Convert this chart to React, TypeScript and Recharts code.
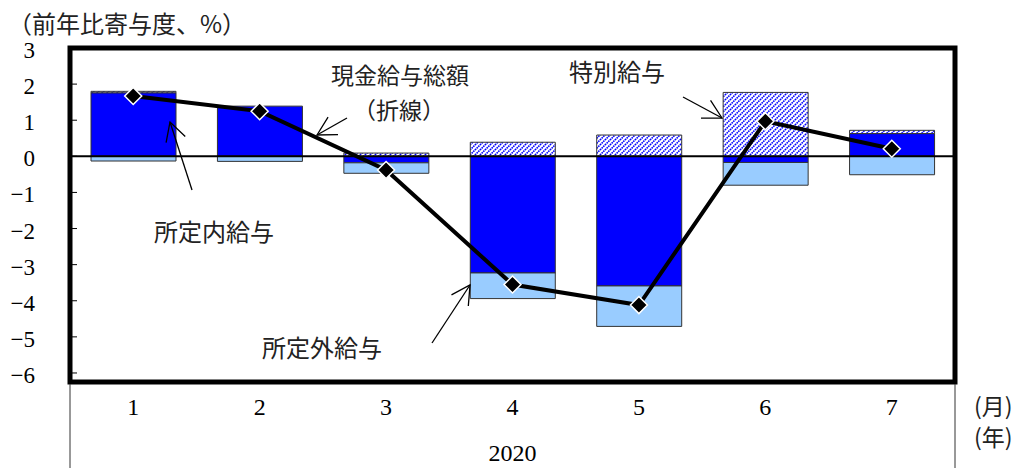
import React from 'react';
import { ComposedChart, Bar, Line, XAxis, YAxis, ReferenceLine } from 'recharts';

// Contributions to year-on-year change in cash earnings (percentage points), 2020
const months = ['1', '2', '3', '4', '5', '6', '7'];
const scheduledPay = [1.76, 1.39, -0.18, -3.23, -3.59, -0.17, 0.63]; // 所定内給与
const overtimePay = [-0.13, -0.14, -0.29, -0.71, -1.12, -0.63, -0.51]; // 所定外給与
const bonusPay = [0.04, 0.0, 0.09, 0.39, 0.59, 1.77, 0.09]; // 特別給与
const totalCash = [1.67, 1.25, -0.38, -3.55, -4.12, 0.97, 0.21]; // 現金給与総額
const yTicks = [3, 2, 1, 0, -1, -2, -3, -4, -5, -6];
const yearLabel = '2020';

const data = months.map((m, i) => ({
  month: m,
  scheduled: scheduledPay[i],
  overtime: overtimePay[i],
  bonus: bonusPay[i],
  total: totalCash[i],
}));

const W = 1033;
const H = 470;
const PLOT = { left: 70, right: 955, top: 48, bottom: 382 };

const SERIF = "'Liberation Serif', 'DejaVu Serif', serif";
const JP = "'Noto Sans CJK JP', 'Noto Sans CJK SC', sans-serif";
const TEXT = '#222';

const YTick = (props: any) => {
  const { x, y, payload } = props;
  const label = String(payload.value).replace('-', '\u2212');
  return (
    <g>
      <line x1={x} x2={x + 7} y1={y} y2={y} stroke="#000" strokeWidth={1} />
      <text x={x - 35} y={y + 10} textAnchor="end" fontSize={23} fontFamily={SERIF} fill="#000">
        {label}
      </text>
    </g>
  );
};

const XTick = (props: any) => {
  const { x, y, payload } = props;
  return (
    <text x={x} y={y + 33} textAnchor="middle" fontSize={24} fontFamily={SERIF} fill="#000">
      {payload.value}
    </text>
  );
};

const renderDiamond = (props: any) => {
  const { cx, cy, index } = props;
  if (cx == null || cy == null) return <g key={`d-${index}`} />;
  const r = 8.5;
  return (
    <polygon
      key={`d-${index}`}
      points={`${cx},${cy - r} ${cx + r},${cy} ${cx},${cy + r} ${cx - r},${cy}`}
      fill="#000"
      stroke="#fff"
      strokeWidth={1.5}
    />
  );
};

// Open "V" arrow from (x1,y1) pointing at (x2,y2)
const Arrow = ({ x1, y1, x2, y2 }: { x1: number; y1: number; x2: number; y2: number }) => {
  const a = Math.atan2(y1 - y2, x1 - x2);
  const len = 21;
  const ang = 0.5;
  const hx1 = x2 + len * Math.cos(a + ang);
  const hy1 = y2 + len * Math.sin(a + ang);
  const hx2 = x2 + len * Math.cos(a - ang);
  const hy2 = y2 + len * Math.sin(a - ang);
  return (
    <g stroke="#000" strokeWidth={1.3} fill="none">
      <line x1={x1} y1={y1} x2={x2} y2={y2} />
      <polyline points={`${hx1},${hy1} ${x2},${y2} ${hx2},${hy2}`} />
    </g>
  );
};

export default function App() {
  return (
    <div style={{ position: 'absolute', left: 0, top: 0, width: W, height: H, background: '#fff' }}>
      <svg width={0} height={0} style={{ position: 'absolute' }}>
        <defs>
          <pattern id="bonusHatch" patternUnits="userSpaceOnUse" width={5} height={5}>
            <rect width={5} height={5} fill="#fff" />
            <path
              d="M-1,1 l2,-2 M0,5 l5,-5 M4,6 l2,-2"
              stroke="#0000FF"
              strokeWidth={1.5}
              strokeDasharray="1.6 0.7"
            />
          </pattern>
        </defs>
      </svg>

      <ComposedChart
        width={W}
        height={H}
        data={data}
        stackOffset="sign"
        margin={{ top: PLOT.top, right: W - PLOT.right, bottom: 0, left: 0 }}
      >
        <XAxis
          dataKey="month"
          height={H - PLOT.bottom}
          axisLine={false}
          tickLine={false}
          tickSize={0}
          tickMargin={0}
          tick={<XTick />}
          interval={0}
        />
        <YAxis
          type="number"
          domain={[-6.25, 3]}
          ticks={yTicks}
          width={PLOT.left}
          axisLine={false}
          tickLine={false}
          tickSize={0}
          tickMargin={0}
          tick={<YTick />}
          interval={0}
        />
        <Bar dataKey="scheduled" stackId="pay" fill="#0000FF" stroke="#333" strokeWidth={1} barSize={85} isAnimationActive={false} />
        <Bar dataKey="overtime" stackId="pay" fill="#99CCFF" stroke="#333" strokeWidth={1} barSize={85} isAnimationActive={false} />
        <Bar dataKey="bonus" stackId="pay" fill="url(#bonusHatch)" stroke="#333" strokeWidth={1} barSize={85} isAnimationActive={false} />
        <ReferenceLine y={0} stroke="#000" strokeWidth={2} />
        <Line
          dataKey="total"
          type="linear"
          stroke="#000"
          strokeWidth={4}
          dot={renderDiamond}
          activeDot={false}
          isAnimationActive={false}
        />
      </ComposedChart>

      <svg
        width={W}
        height={H}
        style={{ position: 'absolute', left: 0, top: 0, pointerEvents: 'none' }}
      >
        {/* plot frame */}
        <rect
          x={PLOT.left}
          y={PLOT.top}
          width={PLOT.right - PLOT.left}
          height={PLOT.bottom - PLOT.top}
          fill="none"
          stroke="#000"
          strokeWidth={5}
        />
        {/* category box edges below the frame */}
        <line x1={PLOT.left} x2={PLOT.left} y1={PLOT.bottom + 2} y2={468} stroke="#333" strokeWidth={1} />
        <line x1={PLOT.right} x2={PLOT.right} y1={PLOT.bottom + 2} y2={468} stroke="#333" strokeWidth={1} />

        <text x={8} y={33} fontSize={24} fontFamily={JP} fill={TEXT}>
          （前年比寄与度、%）
        </text>

        <text x={(PLOT.left + PLOT.right) / 2} y={461} textAnchor="middle" fontSize={24} fontFamily={SERIF} fill="#000">
          {yearLabel}
        </text>
        <text x={974} y={415} fontSize={23} fontFamily={JP} fill={TEXT}>
          (月)
        </text>
        <text x={974} y={446} fontSize={23} fontFamily={JP} fill={TEXT}>
          (年)
        </text>

        {/* series annotations */}
        <text x={331} y={84} fontSize={23} fontFamily={JP} fill={TEXT}>
          現金給与総額
        </text>
        <text x={353} y={119} fontSize={23} fontFamily={JP} fill={TEXT}>
          （折線）
        </text>
        <Arrow x1={347} y1={118} x2={317} y2={135} />

        <text x={569} y={81} fontSize={24} fontFamily={JP} fill={TEXT}>
          特別給与
        </text>
        <Arrow x1={683} y1={97} x2={722} y2={118} />

        <text x={154} y={241} fontSize={24} fontFamily={JP} fill={TEXT}>
          所定内給与
        </text>
        <Arrow x1={192} y1={190} x2={170} y2={122} />

        <text x={262} y={357} fontSize={24} fontFamily={JP} fill={TEXT}>
          所定外給与
        </text>
        <Arrow x1={432} y1={343} x2={470} y2={285} />
      </svg>
    </div>
  );
}
